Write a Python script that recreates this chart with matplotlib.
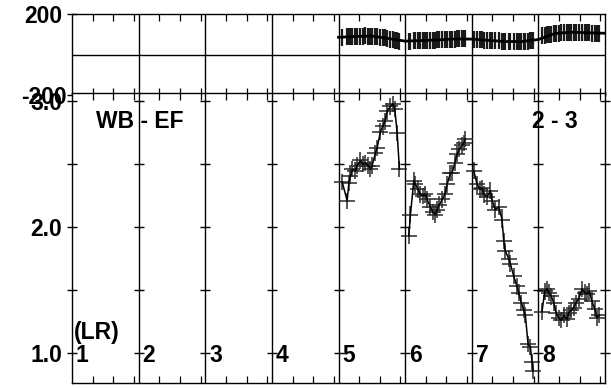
import matplotlib
matplotlib.use("Agg")
import matplotlib.pyplot as plt
import matplotlib.transforms as mtransforms

plt.rcParams['font.family'] = ['Liberation Sans', 'DejaVu Sans']
plt.rcParams['font.weight'] = 'bold'

# ---------------- data ----------------
col5_x = [4.055, 4.13, 4.155, 4.18, 4.21, 4.255, 4.28, 4.33, 4.365, 4.405, 4.445, 4.48,
          4.505, 4.555, 4.58, 4.63, 4.665, 4.695, 4.73, 4.78, 4.815, 4.845, 4.88, 4.915]
col5_y = [2.36, 2.21, 2.35, 2.41, 2.46, 2.45, 2.49, 2.53, 2.50, 2.51, 2.49, 2.46,
          2.49, 2.59, 2.63, 2.76, 2.80, 2.84, 2.92, 2.96, 2.98, 2.94, 2.75, 2.46]
col5_ph = [86, 87, 88, 88, 89, 90, 90, 91, 91, 92, 91, 91,
           90, 89, 88, 86, 84, 82, 80, 76, 73, 70, 67, 64]

col6_x = [5.055, 5.08, 5.13, 5.155, 5.195, 5.23, 5.265, 5.305, 5.33, 5.38, 5.415, 5.455, 5.48,
          5.515, 5.555, 5.595, 5.63, 5.68, 5.705, 5.745, 5.78, 5.815, 5.855, 5.88, 5.905]
col6_y = [1.93, 2.10, 2.37, 2.34, 2.30, 2.26, 2.25, 2.26, 2.22, 2.16, 2.12, 2.10, 2.14,
          2.18, 2.22, 2.26, 2.34, 2.43, 2.43, 2.51, 2.58, 2.62, 2.65, 2.67, 2.70]
col6_ph = [66, 66, 67, 67, 68, 68, 69, 69, 70, 70, 71, 71, 72,
           72, 73, 73, 74, 75, 75, 76, 77, 78, 79, 80, 80]

col7_x = [6.03, 6.08, 6.13, 6.155, 6.18, 6.23, 6.28, 6.305, 6.355, 6.405, 6.455, 6.48, 6.505,
          6.555, 6.58, 6.63, 6.68, 6.705, 6.745, 6.78, 6.805, 6.845, 6.88, 6.905, 6.92]
col7_y = [2.45, 2.34, 2.30, 2.31, 2.26, 2.24, 2.29, 2.21, 2.14, 2.16, 2.06, 1.89, 1.81,
          1.75, 1.71, 1.61, 1.53, 1.48, 1.40, 1.34, 1.30, 1.07, 1.05, 0.93, 0.86]
col7_ph = [74, 73, 72, 72, 71, 70, 70, 69, 68, 67, 66, 65, 64,
           64, 63, 63, 63, 63, 64, 64, 65, 66, 67, 68, 69]

col8_x = [7.055, 7.095, 7.13, 7.155, 7.195, 7.23, 7.265, 7.305, 7.345, 7.38, 7.43, 7.455,
          7.495, 7.53, 7.565, 7.605, 7.655, 7.695, 7.73, 7.765, 7.805, 7.845, 7.88, 7.915]
col8_y = [1.33, 1.49, 1.51, 1.48, 1.45, 1.40, 1.32, 1.28, 1.26, 1.30, 1.27, 1.32,
          1.34, 1.36, 1.40, 1.43, 1.51, 1.48, 1.47, 1.49, 1.41, 1.35, 1.28, 1.30]
col8_ph = [92, 95, 97, 99, 101, 103, 105, 106, 108, 109, 110, 110,
           110, 110, 109, 109, 108, 108, 107, 107, 106, 106, 105, 105]

rho_xerr = 0.12
rho_yerr = 0.065
phase_err = 42

phase_fit_x = [4.0, 4.25, 4.5, 4.75, 5.0, 5.25, 5.5, 5.75, 6.0, 6.25, 6.5, 6.75, 7.0, 7.25, 7.5, 7.75, 8.0]
phase_fit_y = [85, 89, 91, 79, 66, 69, 72, 77, 76, 70, 64, 64, 74, 104, 110, 107, 105]

col_labels = ['1', '2', '3', '4', '5', '6', '7', '8']
rho_ticks = [1.0, 1.5, 2.0, 2.5, 3.0]
rho_ticklabels = {1.0: '1.0', 2.0: '2.0', 3.0: '3.0'}
phase_ticklabels = {200: '200', -200: '-200'}
minor_frac = [0.31, 0.62, 0.93]

# ---------------- figure ----------------
W, H = 611, 388
fig = plt.figure(figsize=(W / 100, H / 100), dpi=100)
left = 72 / W
width = (605 - 72) / W
ax_top = fig.add_axes([left, 1 - 95 / H, width, 81 / H])
ax_bot = fig.add_axes([left, 5 / H, width, 290 / H])

FS = 16.5
ncol = len(col_labels)
minor = [k + f for k in range(ncol) for f in minor_frac]

for ax in (ax_top, ax_bot):
    ax.set_xlim(0, ncol)
    for s in ax.spines.values():
        s.set_linewidth(1.0)
        s.set_color('black')
    ax.set_xticks(minor)
    ax.tick_params(axis='x', which='both', direction='in', length=5, width=0.9,
                   top=True, bottom=True, labelbottom=False, labeltop=False)
    ax.set_yticks([])
    for k in range(1, ncol):
        ax.axvline(k, color='black', lw=1.0, zorder=1)

ax_top.set_ylim(-200, 200)
ax_bot.set_ylim(0.762, 3.066)

# top panel
ax_top.axhline(0, color='black', lw=1.0, zorder=1)
for xs, ph in ((col5_x, col5_ph), (col6_x, col6_ph), (col7_x, col7_ph), (col8_x, col8_ph)):
    ax_top.errorbar(xs, ph, yerr=phase_err, fmt='none', ecolor='#1a1a1a', elinewidth=1.6, zorder=2)
ax_top.plot(phase_fit_x, phase_fit_y, color='black', lw=2.0, zorder=3)

# bottom panel
for xs, ys in ((col5_x, col5_y), (col6_x, col6_y), (col7_x, col7_y), (col8_x, col8_y)):
    ax_bot.errorbar(xs, ys, xerr=rho_xerr, yerr=rho_yerr, fmt='none', ecolor='#2a2a2a',
                    elinewidth=1.1, zorder=2)
    ax_bot.plot(xs, ys, color='black', lw=1.1, zorder=3)

# crossing ticks at every column line
for k in range(ncol + 1):
    ax_bot.plot([k] * len(rho_ticks), rho_ticks, ls='none', marker='_', ms=7.5, mew=1.0,
                color='black', clip_on=False, zorder=4)
ax_top.plot([0, 0], [200, -200], ls='none', marker='_', ms=7.5, mew=1.0, color='black',
            clip_on=False, zorder=4)

# y labels
off = mtransforms.ScaledTranslation(-10 / 100, 0, fig.dpi_scale_trans)
for v, s in rho_ticklabels.items():
    ax_bot.text(0, v, s, ha='right', va='center_baseline', fontsize=FS, fontweight='bold',
                transform=ax_bot.transData + off)
for v, s in phase_ticklabels.items():
    dx = -10 if v > 0 else -5
    o = mtransforms.ScaledTranslation(dx / 100, 0, fig.dpi_scale_trans)
    ax_top.text(0, v, s, ha='right', va='center_baseline', fontsize=FS, fontweight='bold',
                transform=ax_top.transData + o, clip_on=False)

# column labels
for k, s in enumerate(col_labels):
    ax_bot.text(k + 0.06, 1.0, s, ha='left', va='center_baseline', fontsize=FS,
                fontweight='bold', zorder=5)
ax_bot.text(0.03, 1.11, '(LR)', ha='left', va='baseline', fontsize=FS, fontweight='bold')
ax_bot.text(0.36, 2.86, 'WB - EF', ha='left', va='center_baseline', fontsize=FS, fontweight='bold')
ax_bot.text(6.9, 2.86, '2 - 3', ha='left', va='center_baseline', fontsize=FS, fontweight='bold')

fig.savefig('out.png', dpi=100)
